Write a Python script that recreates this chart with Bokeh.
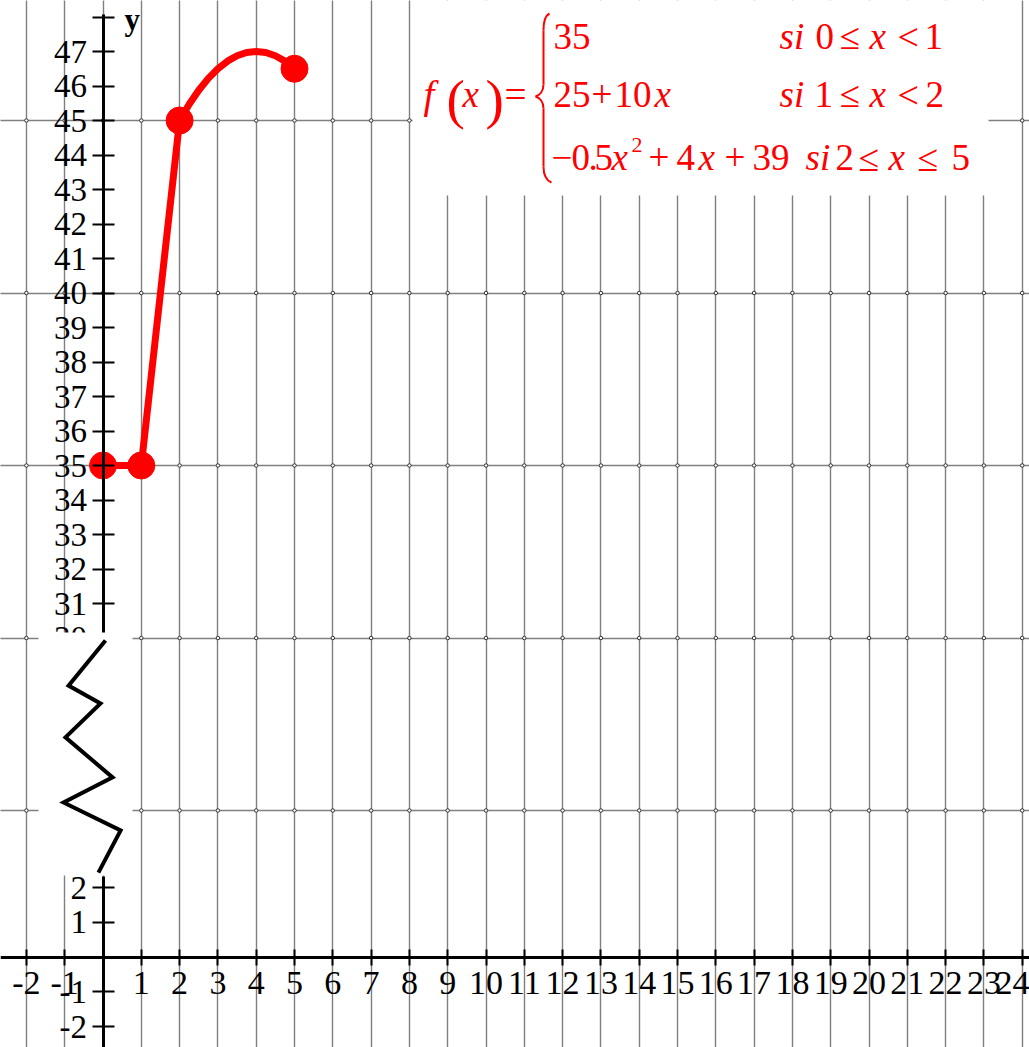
import numpy as np
from bokeh.plotting import figure
from bokeh.models import Range1d, LinearAxis, FixedTicker, Grid, ColumnDataSource
from bokeh.core.properties import value
from bokeh.embed import file_html
from bokeh.resources import INLINE

# ---------------- data ----------------
piece1_x = [0, 1]
piece1_y = [35, 35]
piece2_x = [1, 2]
piece2_y = [35, 45]
piece3_x = [2, 2.25, 2.5, 2.75, 3, 3.25, 3.5, 3.75, 4, 4.25, 4.5, 4.75, 5]
piece3_y = [45, 45.47, 45.875, 46.22, 46.5, 46.72, 46.875, 46.97, 47, 46.97, 46.875, 46.72, 46.5]
point_x = [0, 1, 2, 5]
point_y = [35, 35, 45, 46.5]

x_ticks = list(range(-2, 25))
x_tick_labels = ["-2", "-1", ""] + [str(v) for v in range(1, 25)]
upper_y_ticks = list(range(30, 49))
upper_y_labels = [str(v) for v in range(30, 48)] + [""]
lower_y_ticks = [-2, -1, 1, 2]
lower_y_labels = ["-2", "-1", "1", "2"]
grid_y_upper = [25, 30, 35, 40, 45]

# axis-break zigzag (x in data units, y in upper-section units)
zig_x = [0.065, -0.90, -0.065, -0.98, 0.25, -1.03, 0.46, -0.12]
zig_y = [29.93, 28.62, 28.10, 27.12, 25.96, 25.23, 24.42, 23.20]

# ---------------- layout ----------------
W, H = 1029, 1047
OX, OY = 0, 0
PX0, PXU = 102.5, 38.3       # pixel of x=0, px per x unit
LY0, LYU = 956.5, 34.75      # lower section: pixel of y=0, px per unit
U35, UYU = 465.0, 34.5       # upper section: pixel of y=35, px per unit
TXT_SHIFT = 11               # baseline correction for formula text (px)

def px(p):
    return (p - PX0) / PXU

def pu(p):
    return 35 - (p - U35) / UYU

x_start, x_end = px(OX), px(OX + W)
y_start, y_end = (LY0 - (OY + H)) / LYU, (LY0 - OY) / LYU
u_start, u_end = pu(OY + H), pu(OY)

p = figure(width=W, height=H, x_range=Range1d(x_start, x_end),
           y_range=Range1d(y_start, y_end), output_backend="svg",
           toolbar_location=None, min_border=0,
           x_axis_type=None, y_axis_type=None)
p.extra_y_ranges = {"upper": Range1d(u_start, u_end)}
p.outline_line_color = None
p.background_fill_color = "white"

GRID_C = "#000000"
xgrid = Grid(dimension=0, ticker=FixedTicker(ticks=x_ticks),
             grid_line_color=GRID_C, grid_line_dash="1 1", grid_line_width=1.4)
ygrid = Grid(dimension=1, ticker=FixedTicker(ticks=grid_y_upper), y_range_name="upper",
             grid_line_color=GRID_C, grid_line_dash="1 1", grid_line_width=1.4)
p.add_layout(xgrid)
p.add_layout(ygrid)

# small rings at grid intersections
gx, gy = np.meshgrid(np.array(x_ticks, dtype=float), np.array(grid_y_upper, dtype=float))
p.scatter(gx.ravel(), gy.ravel(), y_range_name="upper", size=3.5,
          fill_color="white", line_color="#333333", line_width=1)

# white box behind the formula
p.quad(left=px(412), right=px(988), top=u_end + 1, bottom=pu(195),
       y_range_name="upper", fill_color="white", line_color=None)

FONT = "Liberation Serif"

def style_axis(ax, tin, tout, size):
    ax.axis_line_width = 3
    ax.axis_line_color = "black"
    ax.major_tick_in = tin
    ax.major_tick_out = tout
    ax.major_tick_line_width = 2
    ax.major_tick_line_color = "black"
    ax.minor_tick_line_color = None
    ax.major_label_text_font = FONT
    ax.major_label_text_font_size = size
    ax.major_label_text_color = "black"

xaxis = LinearAxis(fixed_location=0, ticker=FixedTicker(ticks=x_ticks),
                   major_label_overrides=dict(zip(x_ticks, x_tick_labels)))
style_axis(xaxis, 8, 8, "34px")
xaxis.major_label_standoff = 7
p.add_layout(xaxis, "below")

uaxis = LinearAxis(y_range_name="upper", fixed_location=0, bounds=(30.1, 48.06),
                   ticker=FixedTicker(ticks=upper_y_ticks),
                   major_label_overrides=dict(zip(upper_y_ticks, upper_y_labels)))
style_axis(uaxis, 11, 11, "33px")
uaxis.major_label_standoff = 5
p.add_layout(uaxis, "left")

laxis = LinearAxis(fixed_location=0, bounds=(y_start, 2.32),
                   ticker=FixedTicker(ticks=lower_y_ticks),
                   major_label_overrides=dict(zip(lower_y_ticks, lower_y_labels)))
style_axis(laxis, 11, 11, "33px")
laxis.major_label_standoff = 5
p.add_layout(laxis, "left")

# axis break: white patch + zigzag (drawn above axes)
p.quad(left=px(38), right=px(132), top=pu(632), bottom=pu(875), y_range_name="upper",
       fill_color="white", line_color=None, level="overlay")
p.line(zig_x, zig_y, y_range_name="upper", line_color="black", line_width=4,
       line_join="miter", level="overlay")

# function
RED = "#ff0000"
for xs, ys in [(piece1_x, piece1_y), (piece2_x, piece2_y), (piece3_x, piece3_y)]:
    p.line(xs, ys, y_range_name="upper", line_color=RED, line_width=7, line_cap="round")
p.scatter(point_x, point_y, y_range_name="upper", size=27, fill_color=RED, line_color=RED)

# "y" axis name
p.text(x=[px(124)], y=[pu(27 - 8)], text=["y"], y_range_name="upper",
       text_font=value(FONT), text_font_size="31px", text_font_style="bold",
       text_color="black", text_baseline="alphabetic", text_align="left")

# formula pieces: (text, left px, baseline px, size px, style)
pieces = [
    ("f", 423, 105, 39, "italic"),
    ("(", 446, 110, 55, "normal"),
    ("x", 462, 105, 37, "italic"),
    (")", 485, 110, 55, "normal"),
    ("=", 504, 105, 39, "normal"),
    # line 1
    ("35", 553, 47, 37, "normal"),
    ("si", 779, 47, 37, "italic"),
    ("0", 815, 47, 37, "normal"),
    ("≤", 839, 47, 37, "normal"),
    ("x", 869, 47, 37, "italic"),
    ("<", 897, 47, 38, "normal"),
    ("1", 924, 47, 37, "normal"),
    # line 2
    ("25", 553, 105, 37, "normal"),
    ("+", 591, 105, 37, "normal"),
    ("10", 614, 105, 37, "normal"),
    ("x", 654, 105, 37, "italic"),
    ("si", 779, 105, 37, "italic"),
    ("1", 814, 105, 37, "normal"),
    ("≤", 839, 105, 37, "normal"),
    ("x", 869, 105, 37, "italic"),
    ("<", 897, 105, 38, "normal"),
    ("2", 925, 105, 37, "normal"),
    # line 3
    ("−", 551, 168, 37, "normal"),
    ("0", 571, 168, 37, "normal"),
    (".", 588, 168, 37, "normal"),
    ("5", 594, 168, 37, "normal"),
    ("x", 611, 168, 37, "italic"),
    ("2", 631, 155, 22, "normal"),
    ("+", 648, 168, 37, "normal"),
    ("4", 676, 168, 37, "normal"),
    ("x", 698, 168, 37, "italic"),
    ("+", 724, 168, 37, "normal"),
    ("39", 752, 168, 37, "normal"),
    ("si", 805, 168, 37, "italic"),
    ("2", 835, 168, 37, "normal"),
    ("≤", 858, 168, 38, "normal"),
    ("x", 888, 168, 37, "italic"),
    ("≤", 917, 168, 38, "normal"),
    ("5", 951, 168, 37, "normal"),
]
src = ColumnDataSource(dict(
    x=[px(a[1]) for a in pieces],
    y=[pu(a[2] - TXT_SHIFT) for a in pieces],
    text=[a[0] for a in pieces],
    size=["%dpx" % a[3] for a in pieces],
    style=[a[4] for a in pieces],
))
p.text(x="x", y="y", text="text", source=src, y_range_name="upper",
       text_font=value(FONT), text_font_size="size", text_font_style="style",
       text_color=RED, text_baseline="alphabetic", text_align="left")

# brace
bz = [  # (x0,y0, x1,y1, cx0,cy0, cx1,cy1) in px
    (549, 13, 543, 30, 545, 15, 543, 21),
    (543, 30, 543, 84, 543, 50, 543, 70),
    (543, 84, 535, 96, 543, 91, 539, 95),
    (535, 96, 543, 108, 539, 97, 543, 101),
    (543, 108, 543, 166, 543, 130, 543, 150),
    (543, 166, 551, 182, 543, 175, 546, 180),
]
p.bezier(x0=[px(b[0]) for b in bz], y0=[pu(b[1]) for b in bz],
         x1=[px(b[2]) for b in bz], y1=[pu(b[3]) for b in bz],
         cx0=[px(b[4]) for b in bz], cy0=[pu(b[5]) for b in bz],
         cx1=[px(b[6]) for b in bz], cy1=[pu(b[7]) for b in bz],
         y_range_name="upper", line_color=RED, line_width=2)

open("out.html", "w").write(file_html(p, INLINE))
